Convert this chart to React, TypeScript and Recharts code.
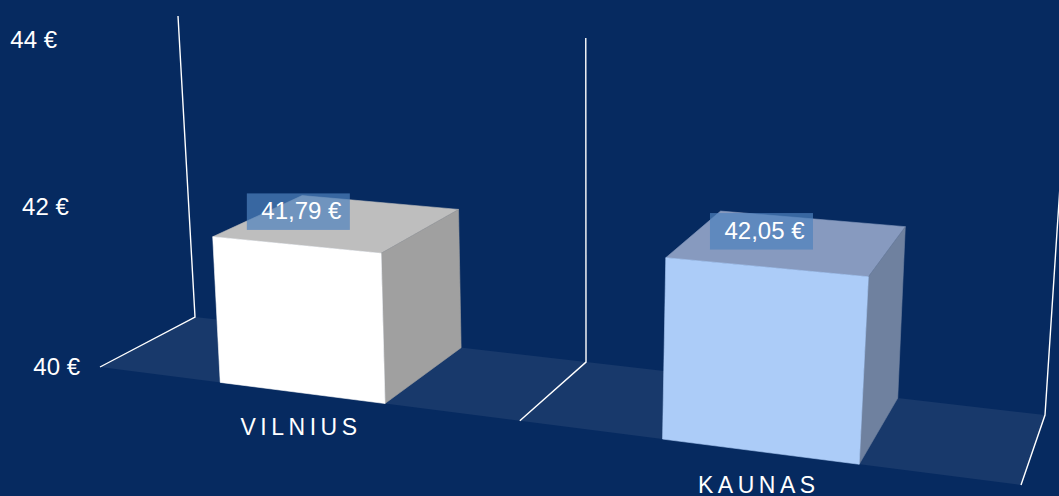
import React from "react";
import { BarChart, Bar, XAxis, YAxis, LabelList } from "recharts";

const categories = ["VILNIUS", "KAUNAS"];
const prices = [41.79, 42.05];
const yTicks = [40, 42, 44];
const frontColors = ["#ffffff", "#acccf8"];
const sideColors = ["#a0a0a0", "#6f819f"];
const topColors = ["#bebebe", "#879abf"];

const chartData = categories.map((name, i) => ({ name, price: prices[i] }));

const FONT = '"Liberation Sans", Arial, sans-serif';
const WIDTH = 1059;
const HEIGHT = 496;
const PLOT = { left: 100, top: 40, right: 1021, bottom: 485 };

type Pt = [number, number];

// unit square -> quad (tl, tr, br, bl)
function makeHomography(p0: Pt, p1: Pt, p2: Pt, p3: Pt) {
  const dx1 = p1[0] - p2[0];
  const dx2 = p3[0] - p2[0];
  const sx = p0[0] - p1[0] + p2[0] - p3[0];
  const dy1 = p1[1] - p2[1];
  const dy2 = p3[1] - p2[1];
  const sy = p0[1] - p1[1] + p2[1] - p3[1];
  const det = dx1 * dy2 - dx2 * dy1;
  const g = (sx * dy2 - dx2 * sy) / det;
  const h = (dx1 * sy - sx * dy1) / det;
  const a = p1[0] - p0[0] + g * p1[0];
  const b = p3[0] - p0[0] + h * p3[0];
  const d = p1[1] - p0[1] + g * p1[1];
  const e = p3[1] - p0[1] + h * p3[1];
  return (u: number, v: number): Pt => {
    const w = g * u + h * v + 1;
    return [(a * u + b * v + p0[0]) / w, (d * u + e * v + p0[1]) / w];
  };
}

// the two planes of the 3D box as they land on screen
const frontPlane = makeHomography([77, 40], [1050, 98], [1021, 485], [100, 367]);
const backPlane = makeHomography([178, 16], [1068, 64], [1045, 415], [195, 317]);

// flat chart pixel + depth (0 front, 1 back) -> screen
function project(px: number, py: number, depth = 0): Pt {
  const u = (px - PLOT.left) / (PLOT.right - PLOT.left);
  const v = (py - PLOT.top) / (PLOT.bottom - PLOT.top);
  const f = frontPlane(u, v);
  const b = backPlane(u, v);
  return [f[0] + (b[0] - f[0]) * depth, f[1] + (b[1] - f[1]) * depth];
}

const toPoints = (pts: Pt[]) => pts.map((p) => `${p[0]},${p[1]}`).join(" ");

function Frame() {
  const midX = (PLOT.left + PLOT.right) / 2;
  const floor = [
    project(PLOT.left, PLOT.bottom, 0),
    project(PLOT.right, PLOT.bottom, 0),
    project(PLOT.right, PLOT.bottom, 1),
    project(PLOT.left, PLOT.bottom, 1),
  ];
  return (
    <g>
      <polygon points={toPoints(floor)} fill="#18396b" />
      {[PLOT.left, midX, PLOT.right].map((x) => (
        <polyline
          key={x}
          points={toPoints([
            project(x, PLOT.bottom, 0),
            project(x, PLOT.bottom, 1),
            project(x, PLOT.top, 1),
          ])}
          fill="none"
          stroke="#ffffff"
          strokeWidth={1.4}
        />
      ))}
    </g>
  );
}

function CubeBar(props: any) {
  const { x, y, width, height, index } = props;
  const r = x + width;
  const b = y + height;
  const faces: [Pt[], string][] = [
    [[project(x, y, 0), project(r, y, 0), project(r, y, 1), project(x, y, 1)], topColors[index]],
    [[project(r, y, 0), project(r, b, 0), project(r, b, 1), project(r, y, 1)], sideColors[index]],
    [[project(x, y, 0), project(r, y, 0), project(r, b, 0), project(x, b, 0)], frontColors[index]],
  ];
  return (
    <g>
      {faces.map(([pts, color], i) => (
        <polygon key={i} points={toPoints(pts)} fill={color} stroke={color} strokeWidth={0.6} />
      ))}
    </g>
  );
}

function PriceLabel(props: any) {
  const { x, y, width, value } = props;
  // anchored on the middle of the bar's front top edge
  const [cx, cy] = project(x + width / 2, y, 0);
  const lx = cx * 0.986 + 7;
  const ly = cy - 33.5 - (cx - 296) * 0.0053;
  return (
    <g>
      <rect x={lx - 51.5} y={ly - 18} width={103} height={36.5} fill="#4f81bd" fillOpacity={0.7} />
      <text x={lx + 3} y={ly - 1} fill="#ffffff" fontSize={24} fontFamily={FONT} textAnchor="middle" dominantBaseline="central">
        {`${Number(value).toFixed(2).replace(".", ",")} €`}
      </text>
    </g>
  );
}

function YTick(props: any) {
  const { y, payload } = props;
  const [sx, sy] = project(PLOT.left, y, 0);
  return (
    <text x={sx - 20} y={sy - 1} fill="#ffffff" fontSize={24} fontFamily={FONT} textAnchor="end" dominantBaseline="central">
      {`${payload.value} €`}
    </text>
  );
}

function XTick(props: any) {
  const { x, payload } = props;
  const [sx, sy] = project(x, PLOT.bottom, 0);
  return (
    <text
      x={sx}
      y={sy + 34}
      fill="#ffffff"
      fontSize={23}
      fontFamily={FONT}
      letterSpacing={4.5}
      textAnchor="middle"
      dominantBaseline="central"
    >
      {payload.value}
    </text>
  );
}

export default function App() {
  return (
    <div style={{ position: "absolute", left: 0, top: 0, width: WIDTH, height: HEIGHT, background: "#062a60", overflow: "hidden" }}>
      <BarChart
        width={WIDTH}
        height={HEIGHT}
        data={chartData}
        barCategoryGap="30.4%"
        margin={{ top: PLOT.top, right: WIDTH - PLOT.right, bottom: 0, left: 0 }}
      >
        <Frame />
        <XAxis dataKey="name" height={HEIGHT - PLOT.bottom} axisLine={false} tickLine={false} tick={XTick} interval={0} />
        <YAxis
          width={PLOT.left}
          domain={[40, 44]}
          ticks={yTicks}
          allowDataOverflow
          axisLine={false}
          tickLine={false}
          tick={YTick}
        />
        <Bar dataKey="price" shape={CubeBar} isAnimationActive={false}>
          <LabelList dataKey="price" content={PriceLabel} />
        </Bar>
      </BarChart>
    </div>
  );
}
